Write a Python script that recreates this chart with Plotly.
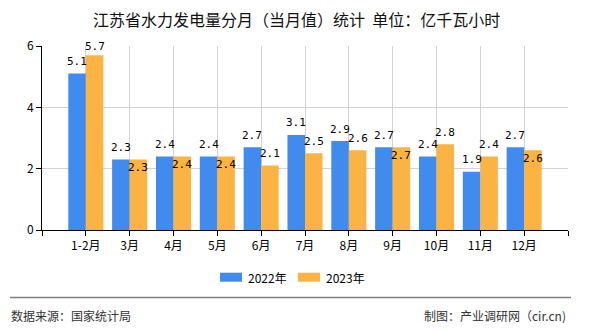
import plotly.graph_objects as go

categories = ["1-2月", "3月", "4月", "5月", "6月", "7月", "8月", "9月", "10月", "11月", "12月"]
series_2022 = [5.1, 2.3, 2.4, 2.4, 2.7, 3.1, 2.9, 2.7, 2.4, 1.9, 2.7]
series_2023 = [5.7, 2.3, 2.4, 2.4, 2.1, 2.5, 2.6, 2.7, 2.8, 2.4, 2.6]
y_ticks = [0, 2, 4, 6]
title_text = "江苏省水力发电量分月（当月值）统计  单位：亿千瓦小时"
source_text = "数据来源：国家统计局"
credit_text = "制图：产业调研网（cir.cn)"

BLUE = "#418aee"
ORANGE = "#fbb343"
CJK = "Noto Sans CJK SC"
MONO = "DejaVu Sans Mono"

W, H = 590, 330
ML, MR, MT, MB = 42, 22, 46, 100
PW, PH = W - ML - MR, H - MT - MB


def px(xp):
    return (xp - ML) / PW


def py(yp):
    return (H - MB - yp) / PH


xs = list(range(len(categories)))

fig = go.Figure()
fig.add_trace(go.Bar(x=xs, y=series_2022, name="2022年", marker_color=BLUE,
                     marker_line_width=0, showlegend=False))
fig.add_trace(go.Bar(x=xs, y=series_2023, name="2023年", marker_color=ORANGE,
                     marker_line_width=0, showlegend=False))

annotations = []
for i, (a, b) in enumerate(zip(series_2022, series_2023)):
    annotations.append(dict(x=i - 0.2, y=a, xref="x", yref="y", text=f"{a:.1f}",
                            showarrow=False, yanchor="middle", yshift=12,
                            font=dict(family=MONO, size=11, color="#000")))
    inside = abs(a - b) < 0.15
    shift = -8 if inside else 12
    if not inside and b >= 5.5:
        shift = 9
    annotations.append(dict(x=i + 0.2, y=b, xref="x", yref="y", text=f"{b:.1f}",
                            showarrow=False, yanchor="middle", yshift=shift,
                            font=dict(family=MONO, size=11, color="#000")))

# title
annotations.append(dict(x=px(296), y=py(19), xref="paper", yref="paper",
                        text=title_text, showarrow=False, xanchor="center", yanchor="middle",
                        font=dict(family=CJK, size=16, color="#111")))
# custom legend
legend_items = [("2022年", BLUE, 220), ("2023年", ORANGE, 298)]
shapes = []
for name, col, x0 in legend_items:
    shapes.append(dict(type="rect", xref="paper", yref="paper",
                       x0=px(x0), x1=px(x0 + 22), y0=py(281.7), y1=py(272.7),
                       fillcolor=col, line_width=0))
    annotations.append(dict(x=px(x0 + 26), y=py(277), xref="paper", yref="paper",
                            text=name, showarrow=False, xanchor="left", yanchor="middle",
                            font=dict(family=CJK, size=12, color="#000")))
# footer line and texts
shapes.append(dict(type="line", xref="paper", yref="paper", x0=px(10), x1=px(571),
                   y0=py(297.5), y1=py(297.5), line=dict(color="#7f7f7f", width=1.5)))
annotations.append(dict(x=px(9), y=py(315), xref="paper", yref="paper", text=source_text,
                        showarrow=False, xanchor="left", yanchor="middle",
                        font=dict(family=CJK, size=12, color="#333")))
annotations.append(dict(x=px(568), y=py(315), xref="paper", yref="paper", text=credit_text,
                        showarrow=False, xanchor="right", yanchor="middle",
                        font=dict(family=CJK, size=12, color="#333")))

tickvals = list(range(-1, len(categories) + 1))
ticktext = [""] + categories + [""]

fig.update_layout(
    width=W, height=H,
    margin=dict(l=ML, r=MR, t=MT, b=MB, pad=0),
    paper_bgcolor="white", plot_bgcolor="white",
    barmode="group", bargap=0.2, bargroupgap=0,
    annotations=annotations, shapes=shapes,
    showlegend=False,
    xaxis=dict(range=[-1, len(categories)], tickmode="array", tickvals=tickvals,
               ticktext=ticktext, showgrid=True, gridcolor="#d3d3d3", gridwidth=1,
               showline=True, linecolor="#000", linewidth=1,
               ticks="outside", ticklen=5, tickcolor="#000",
               tickfont=dict(family=CJK, size=12, color="#000"), zeroline=False),
    yaxis=dict(range=[0, 6], tickmode="array", tickvals=y_ticks,
               showgrid=True, gridcolor="#d3d3d3", gridwidth=1,
               showline=True, linecolor="#000", linewidth=1,
               ticks="outside", ticklen=5, tickcolor="#000",
               tickfont=dict(family=CJK, size=12, color="#000"), zeroline=False),
)

fig.write_html("out.html")
